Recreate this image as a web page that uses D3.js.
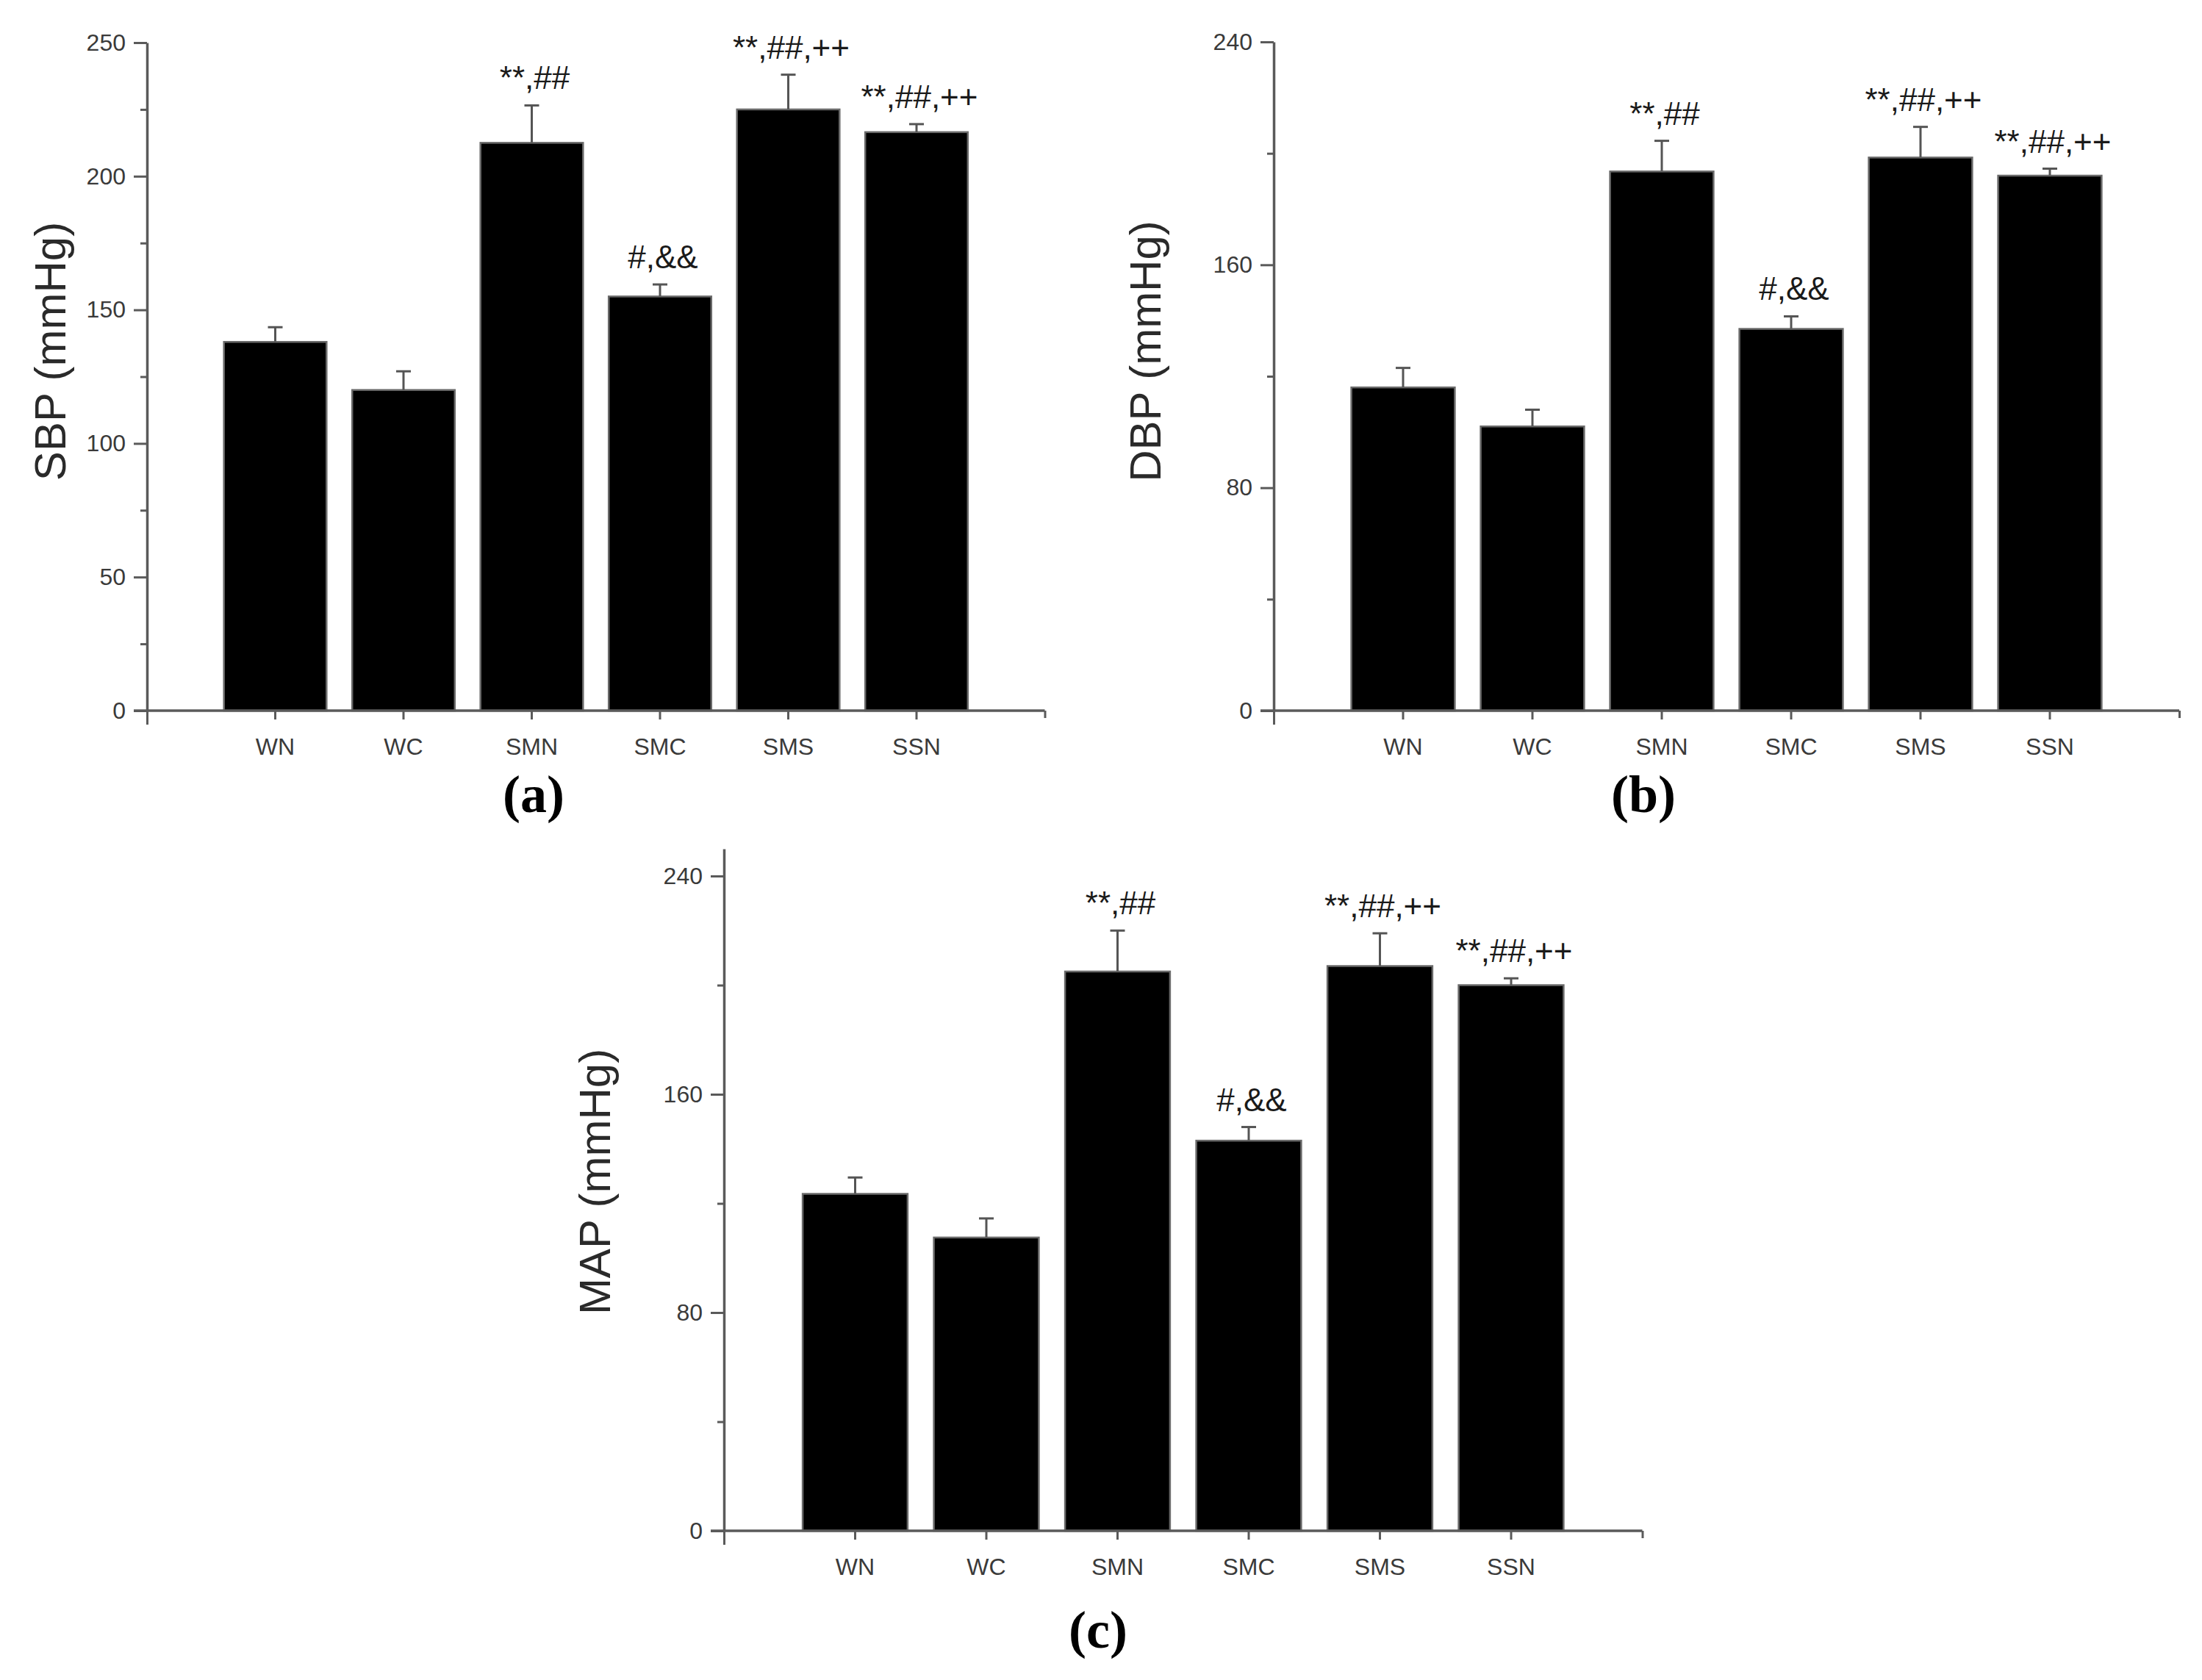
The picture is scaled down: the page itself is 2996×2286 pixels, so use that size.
<!DOCTYPE html>
<html>
<head>
<meta charset="utf-8">
<script src="https://cdn.jsdelivr.net/npm/d3@7/dist/d3.min.js"></script>
<style>
  html, body { margin: 0; padding: 0; background: #fff; }
  svg { display: block; }
</style>
</head>
<body>
<script>
// ---------------- DATA ----------------
const categories = ["WN", "WC", "SMN", "SMC", "SMS", "SSN"];

const sbpMean = [138, 120, 212.5, 155, 225, 216.5];
const sbpErr  = [5.5, 7, 14, 4.5, 13, 3];
const dbpMean = [116, 102, 193.5, 137, 198.5, 192];
const dbpErr  = [7, 6, 11, 4.5, 11, 2.5];
const mapMean = [123.5, 107.5, 205, 143, 207, 200];
const mapErr  = [6, 7, 15, 5, 12, 2.5];

const marks = ["", "", "**,##", "#,&&", "**,##,++", "**,##,++"];

const sbpTicks = [0, 50, 100, 150, 200, 250];
const sbpMinor = [25, 75, 125, 175, 225];
const bpTicks  = [0, 80, 160, 240];
const bpMinor  = [40, 120, 200];

const titles = ["SBP (mmHg)", "DBP (mmHg)", "MAP (mmHg)"];
const panelLabels = ["a", "b", "c"];

// ---------------- LAYOUT ----------------
const W = 2996, H = 2286;
const svg = d3.select("body").append("svg")
  .attr("width", W).attr("height", H)
  .attr("viewBox", `0 0 ${W} ${H}`);
svg.append("rect").attr("width", W).attr("height", H).attr("fill", "#fff");

const panels = [
  { mean: sbpMean, err: sbpErr, ticks: sbpTicks, minor: sbpMinor, top: 250,
    x0: 200, step: 174.5, yTopPx: 58, y0Px: 967, title: titles[0],
    titleX: 67, titleY: 478, label: panelLabels[0], labelX: 726, labelY: 1105 },
  { mean: dbpMean, err: dbpErr, ticks: bpTicks, minor: bpMinor, top: 240,
    x0: 1733, step: 176, yTopPx: 57, y0Px: 967, title: titles[1],
    titleX: 1557, titleY: 478, label: panelLabels[1], labelX: 2236, labelY: 1105 },
  { mean: mapMean, err: mapErr, ticks: bpTicks, minor: bpMinor, top: 250,
    x0: 985, step: 178.5, yTopPx: 1192 - (2083 - 1192) * 10 / 240, y0Px: 2083, title: titles[2],
    titleX: 808, titleY: 1608, label: panelLabels[2], labelX: 1494, labelY: 2242 }
];

const axisColor = "#5a5a5a";
const textColor = "#3a3a3a";

panels.forEach(p => {
  const g = svg.append("g");

  const y = d3.scaleLinear().domain([0, p.top]).range([p.y0Px, p.yTopPx]);
  const x = d3.scaleBand().domain(categories)
    .range([p.x0 + 0.5 * p.step, p.x0 + 6.5 * p.step])
    .paddingInner(0.2).paddingOuter(0.1);
  const xl = d3.scaleLinear().domain([-1, 6]).range([p.x0, p.x0 + 7 * p.step]);

  // bars
  g.selectAll("rect.bar").data(categories).join("rect")
    .attr("class", "bar")
    .attr("x", d => x(d))
    .attr("width", x.bandwidth())
    .attr("y", (d, i) => y(p.mean[i]))
    .attr("height", (d, i) => y(0) - y(p.mean[i]))
    .attr("fill", "#000")
    .attr("stroke", "#6a6a6a")
    .attr("stroke-width", 2.5);

  // error bars (upper only)
  const cx = d => x(d) + x.bandwidth() / 2;
  g.selectAll("line.err").data(categories).join("line")
    .attr("x1", cx).attr("x2", cx)
    .attr("y1", (d, i) => y(p.mean[i]))
    .attr("y2", (d, i) => y(p.mean[i] + p.err[i]))
    .attr("stroke", "#555").attr("stroke-width", 3);
  g.selectAll("line.cap").data(categories).join("line")
    .attr("x1", d => cx(d) - 10).attr("x2", d => cx(d) + 10)
    .attr("y1", (d, i) => y(p.mean[i] + p.err[i]))
    .attr("y2", (d, i) => y(p.mean[i] + p.err[i]))
    .attr("stroke", "#555").attr("stroke-width", 3);

  // significance marks
  g.selectAll("text.mark").data(categories).join("text")
    .attr("x", d => cx(d) + 4)
    .attr("y", (d, i) => y(p.mean[i] + p.err[i]) - 22)
    .attr("text-anchor", "middle")
    .attr("font-family", "Liberation Sans, Arial, sans-serif")
    .attr("font-size", 44)
    .attr("fill", "#1a1a1a")
    .text((d, i) => marks[i]);

  // y axis (major)
  const yAxis = g.append("g").attr("transform", `translate(${p.x0},0)`)
    .call(d3.axisLeft(y).tickValues(p.ticks).tickSize(18).tickSizeOuter(0).tickPadding(11)
      .tickFormat(d3.format("d")));
  // y axis (minor)
  const yMinor = g.append("g").attr("transform", `translate(${p.x0},0)`)
    .call(d3.axisLeft(y).tickValues(p.minor).tickSize(9).tickSizeOuter(0).tickFormat(""));
  yMinor.select(".domain").remove();

  // x axis
  const xAxis = g.append("g").attr("transform", `translate(0,${p.y0Px})`)
    .call(d3.axisBottom(x).tickSize(12).tickSizeOuter(0).tickPadding(25));
  xAxis.select(".domain").remove();
  const xEnds = g.append("g").attr("transform", `translate(0,${p.y0Px})`)
    .call(d3.axisBottom(xl).tickValues([-1, 6]).tickSize(10).tickSizeOuter(0).tickFormat(""));
  xEnds.select(".domain").remove();
  xEnds.selectAll(".tick line").attr("y2", d => d === -1 ? 19 : 10);
  g.append("line")
    .attr("x1", p.x0 - 18).attr("x2", xl(6))
    .attr("y1", p.y0Px).attr("y2", p.y0Px)
    .attr("stroke", axisColor).attr("stroke-width", 3.5);

  [yAxis, yMinor, xAxis, xEnds].forEach(a => {
    a.selectAll("path.domain").attr("stroke", axisColor).attr("stroke-width", 3.5);
    a.selectAll(".tick line").attr("stroke", axisColor).attr("stroke-width", 3);
    a.selectAll(".tick text")
      .attr("font-family", "Liberation Sans, Arial, sans-serif")
      .attr("font-size", 32)
      .attr("fill", textColor);
  });

  // y title
  g.append("text")
    .attr("transform", `translate(${p.titleX},${p.titleY}) rotate(-90)`)
    .attr("text-anchor", "middle")
    .attr("dy", "0.36em")
    .attr("font-family", "Liberation Sans, Arial, sans-serif")
    .attr("font-size", 60)
    .attr("fill", "#2a2a2a")
    .text(p.title);

  // panel label
  const lab = g.append("text")
    .attr("x", p.labelX).attr("y", p.labelY)
    .attr("text-anchor", "middle")
    .attr("font-family", "Liberation Serif, Times New Roman, serif")
    .attr("font-weight", "bold")
    .attr("font-size", 72)
    .attr("fill", "#000");
  lab.append("tspan").text("(");
  lab.append("tspan").text(p.label);
  lab.append("tspan").text(")");
});
</script>
</body>
</html>
